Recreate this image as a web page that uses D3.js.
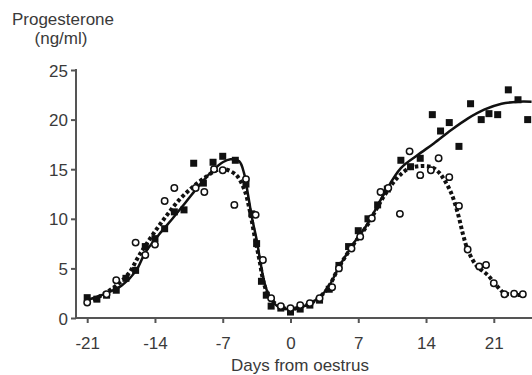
<!DOCTYPE html>
<html>
<head>
<meta charset="utf-8">
<script src="https://cdn.jsdelivr.net/npm/d3@7"></script>
<style>
  html, body { margin: 0; padding: 0; background: #fff; }
  svg { display: block; font-family: "Liberation Sans", Arial, sans-serif; }
</style>
</head>
<body>
<svg id="chart" width="532" height="375"></svg>
<script>
// ---- data ----
const xTicks = [-21, -14, -7, 0, 7, 14, 21];
const yTicks = [0, 5, 10, 15, 20, 25];
const yTitle = ["Progesterone", "(ng/ml)"];
const xTitle = "Days from oestrus";

// filled squares: [day, ng/ml]
const squaresDays = [-21, -20, -19, -18, -17, -16, -15, -14, -13, -12, -11, -10, -9, -8, -7, -5.7, -4.6, -4, -3.5, -3, -2.5, -2, -1, 0, 1, 2, 3, 4, 5, 6, 7, 8, 9, 10, 11.4, 12.4, 13.4, 14.65, 15.5, 16.4, 17.4, 18.6, 19.7, 20.5, 21.4, 22.5, 23.5, 24.5];
const squaresVals = [2.05, 1.9, 2.3, 2.8, 4.0, 4.8, 7.2, 8.0, 9.0, 10.7, 10.9, 15.6, 13.6, 15.7, 16.3, 15.9, 13.5, 10.5, 7.5, 3.7, 2.3, 1.2, 1.0, 0.6, 0.9, 1.3, 1.8, 2.9, 5.3, 7.2, 8.8, 10.0, 11.4, 13.0, 15.9, 15.25, 16.1, 20.5, 18.85, 19.7, 17.3, 21.6, 20.0, 20.6, 20.5, 23.0, 22.0, 20.0];

// open circles: [day, ng/ml]
const circlesDays = [-21, -19, -18, -16, -15, -14, -13, -12, -9.8, -8.9, -7.9, -7, -5.8, -4.6, -3.6, -2.85, -2, -1, 0, 1, 2, 3, 4.3, 5, 6.3, 7.2, 8.4, 9.3, 10.1, 11.3, 12.3, 13.4, 14.5, 15.3, 16.4, 17.4, 18.3, 19.5, 20.2, 21, 22.1, 23.1, 24.0];
const circlesVals = [1.55, 2.4, 3.8, 7.6, 6.35, 7.4, 11.8, 13.1, 13.1, 12.7, 15.0, 14.9, 11.4, 14.0, 10.4, 5.85, 2.0, 1.2, 1.0, 1.3, 1.5, 2.0, 3.1, 5.0, 7.0, 8.2, 10.05, 12.7, 13.1, 10.5, 16.8, 14.4, 14.9, 16.1, 14.2, 11.3, 6.9, 5.2, 5.35, 3.5, 2.4, 2.45, 2.4];

// fitted curve for squares (solid)
const solidDays = [-21, -19, -17.4, -16, -15, -13.6, -12.2, -10.8, -9.4, -8, -7, -6.2, -5.3, -4.8, -4.4, -4, -3.5, -3.1, -2.7, -2.2, -1.5, -0.7, 0.2, 1, 2.3, 3.7, 5.1, 6.5, 7.9, 9.6, 11.4, 13.1, 14.8, 16.6, 18.3, 20, 21.8, 23.5, 24.9];
const solidVals = [1.8, 2.5, 3.3, 4.7, 6.6, 8.4, 10.0, 11.7, 13.4, 14.9, 15.7, 16.0, 15.8, 14.6, 12.5, 10.2, 7.9, 5.6, 3.6, 2.2, 1.3, 0.95, 0.85, 1.05, 1.6, 2.8, 5.3, 7.5, 9.4, 12.4, 15.1, 16.4, 17.6, 18.95, 20.1, 21.0, 21.6, 21.8, 21.8];

// fitted curve for circles (dotted)
const dottedDays = [-21, -19.5, -18.1, -16.7, -15.7, -14.3, -12.9, -11.5, -10.1, -8.7, -7.6, -6.8, -5.6, -4.75, -4.2, -3.7, -3.2, -2.8, -2.3, -1.5, -0.7, 0.2, 1, 2.3, 3.7, 5.1, 6.5, 7.9, 9.6, 11, 12.1, 13.3, 14.6, 15.4, 15.9, 16.6, 17.3, 17.8, 18.3, 19.2, 20.4, 21.4, 22.1, 23, 24.2];
const dottedVals = [1.6, 2.3, 3.2, 4.5, 6.2, 8.3, 10.2, 11.9, 13.2, 14.25, 14.9, 15.0, 14.4, 12.9, 10.8, 8.2, 5.8, 3.7, 2.3, 1.4, 1.0, 0.9, 1.1, 1.6, 2.8, 5.3, 7.4, 9.3, 12.2, 14.1, 15.0, 15.3, 15.2, 14.6, 13.9, 12.6, 10.5, 8.5, 6.9, 5.3, 4.3, 3.15, 2.5, 2.35, 2.3];

// ---- drawing ----
const svg = d3.select("#chart");
const x = d3.scaleLinear().domain([-21, 21]).range([87.2, 493.8]);
const y = d3.scaleLinear().domain([0, 25]).range([318, 70]);
const axisColor = "#555";
const textColor = "#3a3a3a";
const ink = "#111";

const zip = (a, b) => a.map((d, i) => [d, b[i]]);
const plainFmt = d => String(d); // ASCII hyphen-minus as in the original

// x axis
const xAxisG = svg.append("g").attr("transform", `translate(0,${y(0)})`)
  .call(d3.axisBottom(x).tickValues(xTicks).tickFormat(plainFmt).tickSize(5).tickPadding(14).tickSizeOuter(0));
xAxisG.select(".domain").remove();
xAxisG.append("line").attr("x1", 76).attr("x2", 532).attr("y1", 0).attr("y2", 0)
  .attr("stroke", axisColor).attr("stroke-width", 2);

// y axis
const yAxisG = svg.append("g").attr("transform", `translate(76,0)`)
  .call(d3.axisLeft(y).tickValues(yTicks).tickFormat(plainFmt).tickSize(5).tickPadding(3).tickSizeOuter(0));
yAxisG.select(".domain").attr("stroke", axisColor).attr("stroke-width", 2)
  .attr("d", `M0,${y(25) - 1}V${y(0) + 1}`);

[xAxisG, yAxisG].forEach(g => {
  g.selectAll(".tick line").attr("stroke", axisColor).attr("stroke-width", 2);
  g.selectAll(".tick text").attr("fill", textColor)
    .style("font-size", "17px").style("font-family", "'Liberation Sans', Arial, sans-serif");
});
yAxisG.selectAll(".tick text").attr("dy", "0.36em");

// titles
svg.append("text").attr("x", 63).attr("y", 25).attr("text-anchor", "middle")
  .attr("fill", textColor).style("font-size", "17px").text(yTitle[0]);
svg.append("text").attr("x", 61).attr("y", 44).attr("text-anchor", "middle")
  .attr("fill", textColor).style("font-size", "17px").text(yTitle[1]);
svg.append("text").attr("x", 300).attr("y", 371).attr("text-anchor", "middle")
  .attr("fill", textColor).style("font-size", "17px").text(xTitle);

// curves
const line = d3.line().x(d => x(d[0])).y(d => y(d[1])).curve(d3.curveCatmullRom.alpha(0.5));
svg.append("path").datum(zip(solidDays, solidVals)).attr("d", line)
  .attr("fill", "none").attr("stroke", ink).attr("stroke-width", 2.5);
svg.append("path").datum(zip(dottedDays, dottedVals)).attr("d", line)
  .attr("fill", "none").attr("stroke", ink).attr("stroke-width", 4)
  .attr("stroke-dasharray", "3.5,2.5");

// markers
svg.append("g").selectAll("rect").data(zip(squaresDays, squaresVals)).join("rect")
  .attr("x", d => x(d[0]) - 3.5).attr("y", d => y(d[1]) - 3.5)
  .attr("width", 7).attr("height", 7).attr("fill", ink);
svg.append("g").selectAll("circle").data(zip(circlesDays, circlesVals)).join("circle")
  .attr("cx", d => x(d[0])).attr("cy", d => y(d[1])).attr("r", 3.2)
  .attr("fill", "#fff").attr("stroke", ink).attr("stroke-width", 1.5);
</script>
</body>
</html>
